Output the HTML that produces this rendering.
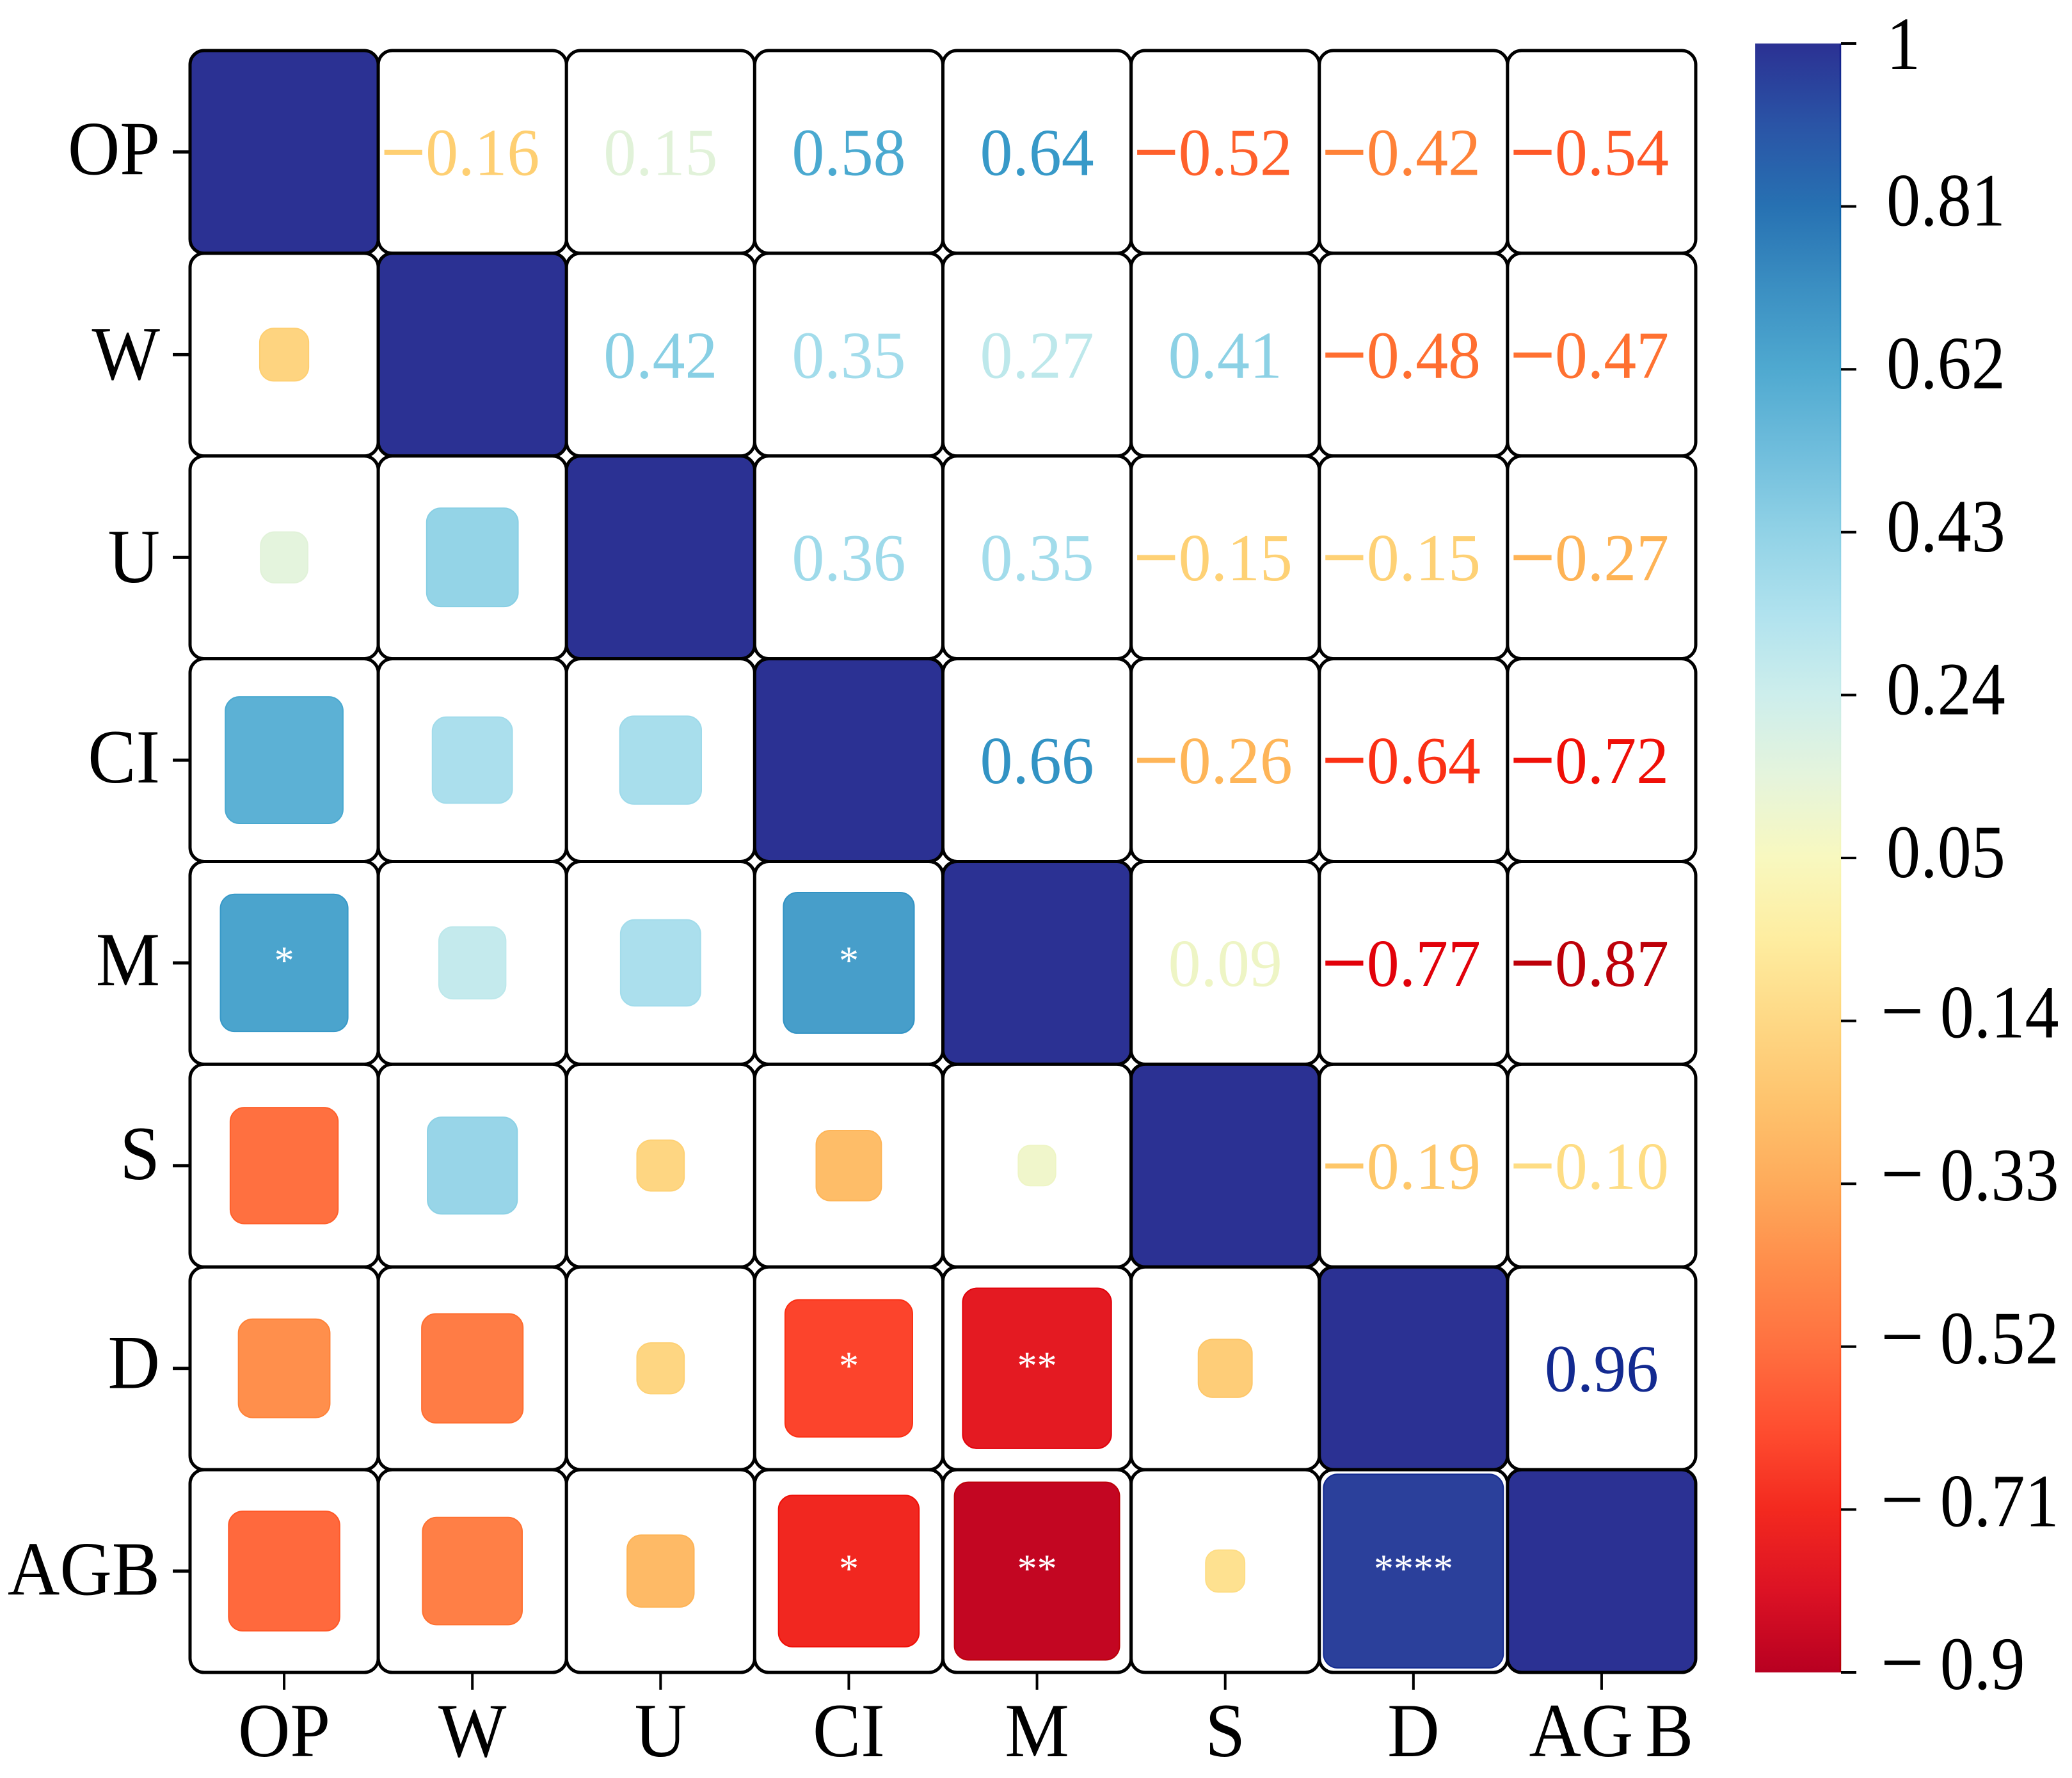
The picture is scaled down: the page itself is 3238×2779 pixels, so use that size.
<!DOCTYPE html>
<html lang="en">
<head>
<meta charset="utf-8">
<title>Correlation matrix</title>
<style>
html,body{margin:0;padding:0;background:#fff}
svg{display:block}
text{font-family:"Liberation Serif",serif}
</style>
</head>
<body>
<svg id="chart" xmlns="http://www.w3.org/2000/svg" width="3238" height="2779" viewBox="0 0 3238 2779">
<rect width="3238" height="2779" fill="#fff"/>
<defs>
<linearGradient id="cbar-gradient" x1="0" y1="0" x2="0" y2="1"></linearGradient>
<linearGradient id="cbar-edge-gradient" x1="0" y1="0" x2="0" y2="1"></linearGradient>
</defs>
</svg>
<script>
const variables = ['OP','W','U','CI','M','S','D','AGB'];
const matrixOP  = [1,-0.16,0.15,0.58,0.64,-0.52,-0.42,-0.54];
const matrixW   = [-0.16,1,0.42,0.35,0.27,0.41,-0.48,-0.47];
const matrixU   = [0.15,0.42,1,0.36,0.35,-0.15,-0.15,-0.27];
const matrixCI  = [0.58,0.35,0.36,1,0.66,-0.26,-0.64,-0.72];
const matrixM   = [0.64,0.27,0.35,0.66,1,0.09,-0.77,-0.87];
const matrixS   = [-0.52,0.41,-0.15,-0.26,0.09,1,-0.19,-0.10];
const matrixD   = [-0.42,-0.48,-0.15,-0.64,-0.77,-0.19,1,0.96];
const matrixAGB = [-0.54,-0.47,-0.27,-0.72,-0.87,-0.10,0.96,1];
const matrix = [matrixOP,matrixW,matrixU,matrixCI,matrixM,matrixS,matrixD,matrixAGB];
const starsOP  = ['','','','','','','',''];
const starsW   = ['','','','','','','',''];
const starsU   = ['','','','','','','',''];
const starsCI  = ['','','','','','','',''];
const starsM   = ['*','','','*','','','',''];
const starsS   = ['','','','','','','',''];
const starsD   = ['','','','*','**','','',''];
const starsAGB = ['','','','*','**','','****',''];
const stars = [starsOP,starsW,starsU,starsCI,starsM,starsS,starsD,starsAGB];
const colorbarTicks = [1,0.81,0.62,0.43,0.24,0.05,-0.14,-0.33,-0.52,-0.71,-0.9];
const colorbarLabels = ['1','0.81','0.62','0.43','0.24','0.05','0.14','0.33','0.52','0.71','0.9'];
const cmapValues = [1,0.905,0.81,0.715,0.62,0.525,0.43,0.335,0.24,0.145,0.05,-0.045,-0.14,-0.235,-0.33,-0.425,-0.52,-0.615,-0.71,-0.805,-0.9];
const cmapColors = ['#2b3193','#2a54a6','#2771b2','#3b8fc2','#4fa9d0','#6fbddc','#91d2e6','#b0e2ee','#cdeeec','#e5f4dc','#f8f8bf','#feeda0','#fed885','#fec36d','#feab5b','#ff8d4b','#ff7040','#ff4e30','#f3291f','#dc1224','#b80021'];

const NS = 'http://www.w3.org/2000/svg';
const svg = document.getElementById('chart');
const gridLeft = 297, gridRight = 2650, gridTop = 79, gridBottom = 2614;
const barLeft = 2743, barRight = 2877, barTop = 68, barBottom = 2614;
const yLabelShift = {OP:35,W:38,U:39,CI:35,M:35,S:21,D:31,AGB:37};
const n = variables.length;
const cellW = (gridRight - gridLeft) / n, cellH = (gridBottom - gridTop) / n;
const xPos = i => gridLeft + i * cellW;
const yPos = i => gridTop + i * cellH;
const xMid = i => xPos(i) + cellW / 2;
const yMid = i => yPos(i) + cellH / 2;
const barY = v => barTop + (cmapValues[0] - v) / (cmapValues[0] - cmapValues[cmapValues.length - 1]) * (barBottom - barTop);
const sizeFrac = r => 0.12 + 0.87 * Math.abs(r);

function hexRgb(h){return [1,3,5].map(k=>parseInt(h.substr(k,2),16));}
function rgbAt(v){
  if(v>=cmapValues[0]) return hexRgb(cmapColors[0]);
  for(let k=1;k<cmapValues.length;k++){
    if(v>=cmapValues[k]){
      const t=(cmapValues[k-1]-v)/(cmapValues[k-1]-cmapValues[k]);
      const a=hexRgb(cmapColors[k-1]),b=hexRgb(cmapColors[k]);
      return a.map((c,m)=>c+(b[m]-c)*t);
    }
  }
  return hexRgb(cmapColors[cmapColors.length-1]);
}
function color(v){return 'rgb('+rgbAt(v).map(Math.round).join(',')+')';}
/* text and outlines use the opaque colour; filled marks sit at 90% over white */
function strong(v){
  return 'rgb('+rgbAt(v).map(c=>Math.max(0,Math.min(255,Math.round((c-25.5)/0.9)))).join(',')+')';
}
function make(tag, attrs, parent){
  const e=document.createElementNS(NS,tag);
  for(const k in attrs) e.setAttribute(k,attrs[k]);
  (parent||svg).appendChild(e);
  return e;
}
function label(str,x,y,size,sx,anchor,fill){
  const e=make('text',{transform:'translate('+x+','+y+') scale('+sx+',1)','font-size':size,'text-anchor':anchor,fill:fill});
  e.textContent=str;
  return e;
}
function signedLabel(str,x,y,size,sx,anchor,fill,minusSize,minusDrop,gap,minusStroke){
  const e=make('text',{transform:'translate('+x+','+y+') scale('+sx+',1)','font-size':size,'text-anchor':anchor,fill:fill});
  const m=make('tspan',{'font-size':minusSize,dy:minusDrop,stroke:fill,'stroke-width':minusStroke},e);
  m.textContent='\u2212';
  const d=make('tspan',{dy:-minusDrop,dx:gap,stroke:'none'},e);
  d.textContent=str;
  return e;
}
let el;

/* colorbar gradients */
const grad=document.getElementById('cbar-gradient');
const edgeGrad=document.getElementById('cbar-edge-gradient');
cmapValues.forEach((v,k)=>{
  const off=(barY(v)-barTop)/(barBottom-barTop);
  make('stop',{offset:off,'stop-color':cmapColors[k]},grad);
  make('stop',{offset:off,'stop-color':strong(v)},edgeGrad);
});

/* cells */
for(let row=0;row<n;row++){
  for(let col=0;col<n;col++){
    const r=matrix[row][col];
    const diag=row===col;
    el=make('rect',{x:xPos(col),y:yPos(row),width:cellW,height:cellH,rx:22,ry:22,fill:diag?color(r):'#fff',stroke:'#000','stroke-width':5});
    
    
  }
}
/* marks and numbers */
for(let row=0;row<n;row++){
  for(let col=0;col<n;col++){
    const r=matrix[row][col];
    if(col<row){
      const f=sizeFrac(r), w=cellW*f, h=cellH*f, rad=Math.min(22,w*0.32);
      el=make('rect',{x:xMid(col)-w/2,y:yMid(row)-h/2,width:w,height:h,rx:rad,ry:rad,fill:color(r),stroke:strong(r),'stroke-width':2});
      
      
      if(stars[row][col]){
        el=label(stars[row][col],xMid(col),yMid(row)+17,62,1,'middle','#fff');
        
        
      }
    }else if(col>row){
      const txt=Math.abs(r).toFixed(2);
      if(r<0){
        el=signedLabel(txt,xMid(col)-19,yMid(row)+36,105,0.97,'middle',strong(r),128,7,0,1.5);
      }else{
        el=label(txt,xMid(col),yMid(row)+36,105,0.97,'middle',strong(r));
      }
      
      
    }
  }
}
/* axes */
variables.forEach((name,i)=>{
  el=make('line',{x1:270,x2:gridLeft,y1:yMid(i),y2:yMid(i),stroke:'#000','stroke-width':5});
  
  
  el=label(name,250,yMid(i)+yLabelShift[name],120,0.94,'end','#000');
  
  
  el=make('line',{x1:xMid(i),x2:xMid(i),y1:gridBottom,y2:2641,stroke:'#000','stroke-width':4});
  
  
  if(name==='AGB'){
    el=make('text',{transform:'translate('+(xMid(i)+15)+',2745) scale(0.94,1)','font-size':120,'text-anchor':'middle',fill:'#000'});
    
    
    const a=make('tspan',{},el);
    a.textContent='AG';
    const b=make('tspan',{dx:20},el);
    b.textContent='B';
  }else{
    el=label(name,xMid(i),2745,120,0.94,'middle','#000');
    
    
  }
});
/* colorbar */
el=make('rect',{x:barLeft,y:barTop,width:barRight-barLeft,height:barBottom-barTop,fill:'url(#cbar-gradient)'});


el=make('line',{x1:barRight-1,x2:barRight-1.01,y1:barTop,y2:barBottom,stroke:'url(#cbar-edge-gradient)','stroke-width':2.5});


colorbarTicks.forEach((v,i)=>{
  const y=barY(v);
  el=make('line',{x1:barRight,x2:2901,y1:y,y2:y,stroke:'#000','stroke-width':4});
  
  
  if(v<0){
    el=signedLabel(colorbarLabels[i],2939,y+26,118,0.9,'start','#000',133,3,28,0);
  }else{
    el=label(colorbarLabels[i],2948,y+(v===1?40:30),118,0.9,'start','#000');
  }
  
  
});
</script>
</body>
</html>
